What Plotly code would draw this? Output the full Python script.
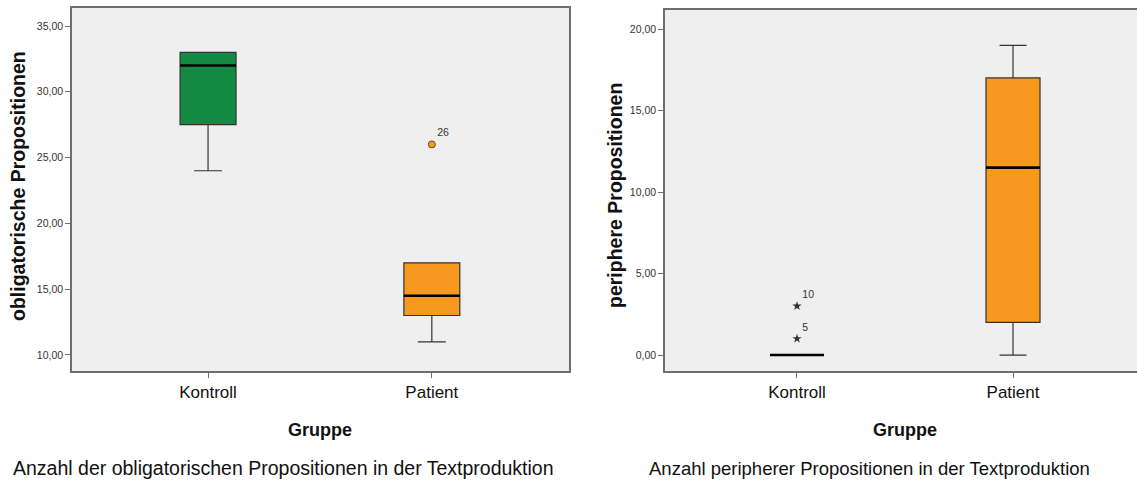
import plotly.graph_objects as go

# ---------------- data ----------------
groups = ["Kontroll", "Patient"]

# obligatorische Propositionen
obl_q1 = [27.5, 13.0]
obl_median = [32.0, 14.5]
obl_q3 = [33.0, 17.0]
obl_low = [24.0, 11.0]
obl_high = [33.0, 17.0]
obl_out_group = [1]          # index into groups
obl_out_value = [26.0]
obl_out_label = ["26"]

# periphere Propositionen
per_q1 = [0.0, 2.0]
per_median = [0.0, 11.5]
per_q3 = [0.0, 17.0]
per_low = [0.0, 0.0]
per_high = [0.0, 19.0]
per_ext_group = [0, 0]
per_ext_value = [1.0, 3.0]
per_ext_label = ["5", "10"]

obl_ticks = [10, 15, 20, 25, 30, 35]
per_ticks = [0, 5, 10, 15, 20]
obl_ticktext = ["10,00", "15,00", "20,00", "25,00", "30,00", "35,00"]
per_ticktext = ["0,00", "5,00", "10,00", "15,00", "20,00"]

titles_y = ["obligatorische Propositionen", "periphere Propositionen"]
xtitle = "Gruppe"
captions = ["Anzahl der obligatorischen Propositionen in der Textproduktion",
            "Anzahl peripherer Propositionen in der Textproduktion"]

colors = ["#138a44", "#f7981f"]

# ---------------- figure ----------------
W, H = 1137, 480
FONT = "Liberation Sans, Arial, sans-serif"
BOXW = 0.25

fig = go.Figure()


def add_panel(xa, ya, q1, med, q3, lo, hi, box_colors):
    for i, g in enumerate(groups):
        if q3[i] - q1[i] > 0:
            fig.add_trace(go.Box(
                x=[i], q1=[q1[i]], median=[med[i]], q3=[q3[i]],
                lowerfence=[lo[i]], upperfence=[hi[i]],
                width=BOXW, whiskerwidth=0.5,
                fillcolor=box_colors[i],
                line=dict(color="#333333", width=1.2),
                boxpoints=False, xaxis=xa, yaxis=ya,
                showlegend=False, hoverinfo="skip"))
        # thick median line
        fig.add_trace(go.Scatter(
            x=[i - BOXW / 2, i + BOXW / 2], y=[med[i], med[i]],
            mode="lines", line=dict(color="#000000", width=2.6),
            xaxis=xa, yaxis=ya, showlegend=False, hoverinfo="skip"))


add_panel("x", "y", obl_q1, obl_median, obl_q3, obl_low, obl_high, colors)
add_panel("x2", "y2", per_q1, per_median, per_q3, per_low, per_high, colors)

# outlier (circle)
fig.add_trace(go.Scatter(
    x=obl_out_group, y=obl_out_value, mode="markers+text",
    text=obl_out_label, textposition="top right",
    textfont=dict(family=FONT, size=10.5, color="#333333"),
    marker=dict(symbol="circle", size=7, color=colors[1],
                line=dict(color="#6b4a1a", width=1)),
    xaxis="x", yaxis="y", showlegend=False, hoverinfo="skip"))

# extremes (stars)
fig.add_trace(go.Scatter(
    x=per_ext_group, y=per_ext_value, mode="markers+text",
    text=per_ext_label, textposition="top right",
    textfont=dict(family=FONT, size=10.5, color="#333333"),
    marker=dict(symbol="star", size=7, color="#333333"),
    xaxis="x2", yaxis="y2", showlegend=False, hoverinfo="skip"))

# ---------------- axes ----------------
def px_x(p):
    return p / W


def px_y(p):
    return 1 - p / H


axis_line = dict(showline=True, linecolor="#6e6e6e", linewidth=1.6,
                 showgrid=False, zeroline=False, ticks="outside",
                 ticklen=5, tickcolor="#6e6e6e", tickwidth=1)

fig.update_layout(
    width=W, height=H,
    margin=dict(l=0, r=0, t=0, b=0),
    paper_bgcolor="#ffffff", plot_bgcolor="#efefef",
    font=dict(family=FONT, color="#222222"),
    xaxis=dict(domain=[px_x(72), px_x(569)], range=[-0.608, 1.613],
               tickvals=[0, 1], ticktext=groups, mirror=True,
               tickfont=dict(size=17, color="#111111"), anchor="y",
               **axis_line),
    yaxis=dict(domain=[px_y(371), px_y(8)], range=[8.78, 36.37],
               tickvals=obl_ticks, ticktext=obl_ticktext, mirror=True,
               tickfont=dict(size=10.5, color="#333333"), anchor="x",
               **axis_line),
    xaxis2=dict(domain=[px_x(665), 1.0], range=[-0.611, 1.574],
                tickvals=[0, 1], ticktext=groups, mirror=True,
                tickfont=dict(size=17, color="#111111"), anchor="y2",
                **axis_line),
    yaxis2=dict(domain=[px_y(371), px_y(10)], range=[-0.98, 21.17],
                tickvals=per_ticks, ticktext=per_ticktext, mirror=False,
                tickfont=dict(size=10.5, color="#333333"), anchor="x2",
                **axis_line),
)

ann = []
common = dict(xref="paper", yref="paper", showarrow=False,
              xanchor="center", yanchor="middle")
# y titles
ann.append(dict(x=px_x(18), y=px_y(186), text="<b>" + titles_y[0] + "</b>",
                textangle=-90, font=dict(size=19.5, color="#111111"), **common))
ann.append(dict(x=px_x(615), y=px_y(196), text="<b>" + titles_y[1] + "</b>",
                textangle=-90, font=dict(size=19.5, color="#111111"), **common))
# x titles
ann.append(dict(x=px_x(320), y=px_y(430), text="<b>" + xtitle + "</b>",
                font=dict(size=18, color="#111111"), **common))
ann.append(dict(x=px_x(905), y=px_y(430), text="<b>" + xtitle + "</b>",
                font=dict(size=18, color="#111111"), **common))
# captions
ann.append(dict(x=px_x(283), y=px_y(468), text=captions[0],
                font=dict(size=19.5, color="#111111"), **common))
ann.append(dict(x=px_x(869), y=px_y(468), text=captions[1],
                font=dict(size=18.5, color="#111111"), **common))
fig.update_layout(annotations=ann)

fig.write_html("out.html")
